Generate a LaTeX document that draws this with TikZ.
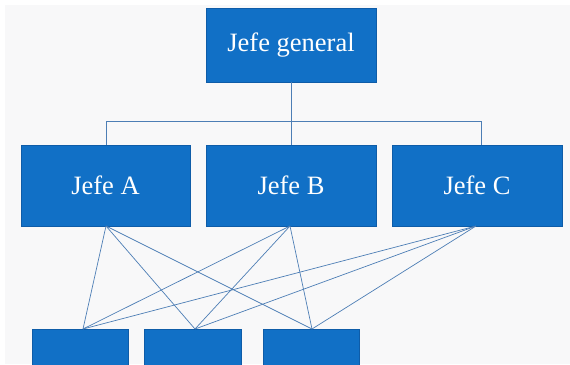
\documentclass[tikz,border=0pt]{standalone}
\usepackage{fontspec}
\setmainfont{Liberation Serif}
\definecolor{boxblue}{HTML}{1170C6}
\definecolor{boxedge}{HTML}{0E5CA8}
\definecolor{linkblue}{HTML}{4D7EB5}
\definecolor{bggray}{HTML}{F8F8F9}
\begin{document}
\begin{tikzpicture}[x=1pt,y=-1pt,
  bx/.style={fill=boxblue,draw=boxedge,line width=0.8pt,text=white,font=\fontsize{26.5}{30}\selectfont},
  lk/.style={draw=linkblue,line width=0.7pt}]
\useasboundingbox (0,0) rectangle (570,364);
\clip (0,0) rectangle (570,364);
\fill[white] (0,0) rectangle (570,364);
\fill[bggray] (5,5) rectangle (570,364);
% boxes
\node[bx,minimum width=170pt,minimum height=74pt] (g) at (291,45) {Jefe general};
\node[bx,minimum width=169pt,minimum height=81pt] (a) at (105.5,185.5) {Jefe A};
\node[bx,minimum width=170pt,minimum height=81pt] (b) at (291,185.5) {Jefe B};
\node[bx,minimum width=170pt,minimum height=81pt] (c) at (477,185.5) {Jefe C};
\node[bx,minimum width=96pt,minimum height=50pt,anchor=north] (p) at (80,329) {};
\node[bx,minimum width=97pt,minimum height=50pt,anchor=north] (q) at (192.5,329) {};
\node[bx,minimum width=96pt,minimum height=50pt,anchor=north] (r) at (311,329) {};
% tree connectors
\coordinate (ha) at (106,121);
\coordinate (hc) at (481,121);
\draw[lk] (g.south) -- (b.north);
\draw[lk] (ha) -- (hc);
\draw[lk] (ha) -- (ha |- a.north);
\draw[lk] (hc) -- (hc |- c.north);
% cross links
\coordinate (as) at (106,226);
\coordinate (bs) at (290,226);
\coordinate (cs) at (476,226);
\coordinate (pn) at (83,329);
\coordinate (qn) at (195,329);
\coordinate (rn) at (312,329);
\foreach \s in {as,bs,cs}{
  \foreach \t in {pn,qn,rn}{
    \draw[lk] (\s) -- (\t);
  }
}
\end{tikzpicture}
\end{document}
